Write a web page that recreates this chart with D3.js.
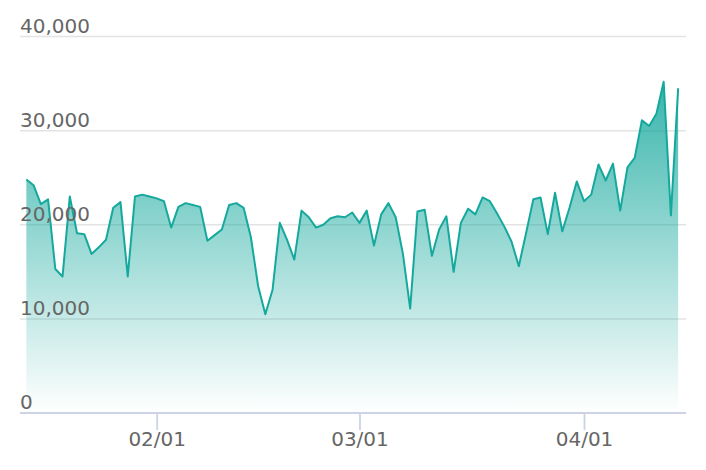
<!DOCTYPE html>
<html>
<head>
<meta charset="utf-8">
<script src="https://cdn.jsdelivr.net/npm/d3@7"></script>
<style>
    html, body { margin: 0; padding: 0; background: #fff; }
    svg { display: block; font-family: "DejaVu Sans", sans-serif; }
</style>
</head>
<body>
<div id="chart"></div>
<script>
(function () {
    // Daily values starting 2023-01-14
    var START_DATE = Date.UTC(2023, 0, 14);
    var values = [
        24800, 24200, 22200, 22700, 15300, 14500, 23000, 19100, 19000, 16900,
        17600, 18400, 21800, 22400, 14500, 23000, 23200, 23000, 22800, 22500,
        19700, 21900, 22300, 22100, 21900, 18300, 18900, 19500, 22100, 22300,
        21800, 18700, 13500, 10500, 13100, 20200, 18400, 16300, 21500, 20800,
        19700, 20000, 20700, 20900, 20800, 21300, 20200, 21500, 17800, 21100,
        22300, 20800, 16900, 11100, 21400, 21600, 16700, 19500, 20900, 15000,
        20200, 21700, 21100, 22900, 22500, 21200, 19800, 18200, 15600, 19100,
        22700, 22900, 19000, 23400, 19300, 21800, 24600, 22500, 23200, 26400,
        24700, 26500, 21500, 26100, 27100, 31100, 30500, 31800, 35200, 21000,
        34500
    ];
    var xTicks = [Date.UTC(2023, 1, 1), Date.UTC(2023, 2, 1), Date.UTC(2023, 3, 1)];
    var yTicks = [0, 10000, 20000, 30000, 40000];

    var WIDTH = 706;
    var HEIGHT = 470;
    var LEFT = 20;
    var RIGHT = 686;
    var BASE_Y = 413;
    var TOP_Y = 36.5;
    var LINE_COLOR = '#15a89d';
    var TEXT_COLOR = '#666';
    var AXIS_COLOR = '#ccd3e6';
    var GRID_COLOR = '#e3e3e3';

    var data = values.map(function (v, i) {
        return { date: d3.utcDay.offset(new Date(START_DATE), i), value: v };
    });

    var svg = d3.select('#chart').append('svg')
        .attr('width', WIDTH)
        .attr('height', HEIGHT);

    // x mapping: Feb 1 -> 156.7, Apr 1 -> 584, then widened to the axis extent
    var x = d3.scaleUtc()
        .domain([new Date(xTicks[0]), new Date(xTicks[2])])
        .range([156.7, 584]);
    x.domain([x.invert(LEFT), x.invert(RIGHT)]).range([LEFT, RIGHT]);

    var y = d3.scaleLinear().domain([0, 40000]).range([BASE_Y, TOP_Y]);

    var defs = svg.append('defs');
    var grad = defs.append('linearGradient')
        .attr('id', 'areaGrad')
        .attr('gradientUnits', 'userSpaceOnUse')
        .attr('x1', 0).attr('x2', 0)
        .attr('y1', y(d3.max(values))).attr('y2', y(0));
    grad.append('stop').attr('offset', 0).attr('stop-color', LINE_COLOR).attr('stop-opacity', 0.85);
    grad.append('stop').attr('offset', 1).attr('stop-color', LINE_COLOR).attr('stop-opacity', 0);

    // Grid lines
    svg.append('g').selectAll('line')
        .data(yTicks.filter(function (t) { return t > 0; }))
        .join('line')
        .attr('x1', LEFT).attr('x2', RIGHT)
        .attr('y1', function (d) { return y(d); })
        .attr('y2', function (d) { return y(d); })
        .attr('stroke', GRID_COLOR)
        .attr('stroke-width', 1.5);

    // Area + line
    var area = d3.area()
        .x(function (d) { return x(d.date); })
        .y0(y(0))
        .y1(function (d) { return y(d.value); });
    var line = d3.line()
        .x(function (d) { return x(d.date); })
        .y(function (d) { return y(d.value); });

    svg.append('path')
        .datum(data)
        .attr('d', area)
        .attr('fill', 'url(#areaGrad)');

    svg.append('path')
        .datum(data)
        .attr('d', line)
        .attr('fill', 'none')
        .attr('stroke', LINE_COLOR)
        .attr('stroke-width', 2)
        .attr('stroke-linejoin', 'round');

    // Y labels sit above their grid line, left aligned
    svg.append('g').selectAll('text')
        .data(yTicks)
        .join('text')
        .attr('x', LEFT)
        .attr('y', function (d) { return y(d) - 4; })
        .attr('fill', TEXT_COLOR)
        .attr('font-size', 20)
        .text(function (d) { return d3.format(',')(d); });

    // X axis
    var xAxis = d3.axisBottom(x)
        .tickValues(xTicks.map(function (t) { return new Date(t); }))
        .tickFormat(d3.utcFormat('%m/%d'))
        .tickSize(17)
        .tickPadding(2);

    var gx = svg.append('g')
        .attr('transform', 'translate(0,' + BASE_Y + ')')
        .call(xAxis);
    gx.select('.domain').remove();
    gx.selectAll('.tick line').attr('stroke', AXIS_COLOR).attr('stroke-width', 1.8);
    gx.selectAll('.tick text')
        .attr('fill', TEXT_COLOR)
        .attr('font-size', 20)
        .attr('font-family', '"DejaVu Sans", sans-serif');
    gx.append('line')
        .attr('x1', LEFT).attr('x2', RIGHT)
        .attr('y1', 0).attr('y2', 0)
        .attr('stroke', AXIS_COLOR)
        .attr('stroke-width', 2);
}());
</script>
</body>
</html>
